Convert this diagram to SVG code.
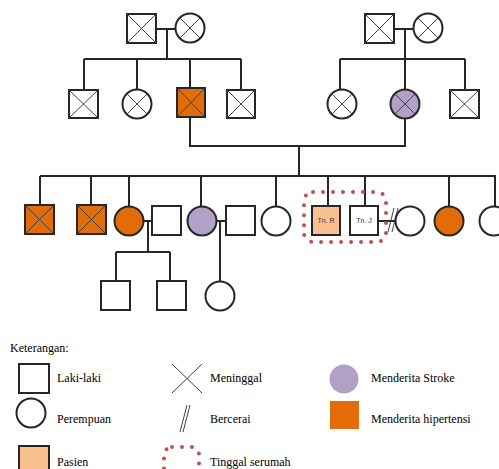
<svg xmlns="http://www.w3.org/2000/svg" width="499" height="469" viewBox="0 0 499 469">
<style>
.s{fill:#fff;stroke:#262626;stroke-width:2}
.o{fill:#E36C09}
.p{fill:#B2A1C7}
.pa{fill:#FAC090}
.x{stroke:#404040;stroke-width:1;fill:none}
.ln{stroke:#262626;stroke-width:2;fill:none}
.dot{fill:none;stroke:#C0504D;stroke-width:4;stroke-linecap:round;stroke-dasharray:0 10}
.t{font-family:"Liberation Serif",serif;font-size:12px;fill:#000}
.n{font-family:"Liberation Sans",sans-serif;font-size:7px;fill:#333}
</style>
<g id="connectors">
<path class="ln" d="M156 29H176M167 29V59M84 59H241M84 59V90M137 59V90M190 59V88M241 59V90"/>
<path class="ln" d="M394 29H414M405 29V90M340 59H465M340 59V90M465 59V90"/>
<path class="ln" d="M190 117V146H405V119M299 146V176"/>
<path class="ln" d="M40 176H496M40 176V205M91 176V205M129 176V206M201 176V206M276 176V206M328 176V206M365 176V206M449 176V206M495 176V206"/>
<path class="ln" d="M144 221H152M148 221V252M116 252H170M116 252V281M170 252V281"/>
<path class="ln" d="M217 221H226M220 221V281"/>
<path class="ln" d="M378 221H396"/>
<path class="x" stroke-width="1.2" d="M388 232L394 208M392 232L398 208"/>
</g>
<g id="gp1m"><rect class="s" x="127" y="14" width="29" height="29"/><path class="x" d="M127 14L156 43M156 14L127 43"/></g>
<g id="gp1f"><circle class="s" cx="190" cy="28" r="14.5"/><path class="x" d="M179.7 17.7L200.3 38.3M200.3 17.7L179.7 38.3"/></g>
<g id="gp2m"><rect class="s" x="365" y="14" width="29" height="29"/><path class="x" d="M365 14L394 43M394 14L365 43"/></g>
<g id="gp2f"><circle class="s" cx="428" cy="28" r="14.5"/><path class="x" d="M417.7 17.7L438.3 38.3M438.3 17.7L417.7 38.3"/></g>
<g id="p1"><rect class="s" x="69" y="90" width="29" height="28"/><path class="x" d="M69 90L98 118M98 90L69 118"/></g>
<g id="p2"><circle class="s" cx="137" cy="104" r="14.5"/><path class="x" d="M126.7 93.7L147.3 114.3M147.3 93.7L126.7 114.3"/></g>
<g id="father"><rect class="s o" x="177" y="88" width="28" height="29"/><path class="x" stroke="#262626" d="M177 88L205 117M205 88L177 117"/></g>
<g id="p4"><rect class="s" x="227" y="90" width="28" height="28"/><path class="x" d="M227 90L255 118M255 90L227 118"/></g>
<g id="p5"><circle class="s" cx="342" cy="104" r="14.5"/><path class="x" d="M331.7 93.7L352.3 114.3M352.3 93.7L331.7 114.3"/></g>
<g id="mother"><circle class="s p" cx="405" cy="104" r="14.5"/><path class="x" stroke="#262626" d="M394.7 93.7L415.3 114.3M415.3 93.7L394.7 114.3"/></g>
<g id="p7"><rect class="s" x="450" y="90" width="29" height="28"/><path class="x" d="M450 90L479 118M479 90L450 118"/></g>
<g id="c1"><rect class="s o" x="25" y="205" width="29" height="29"/><path class="x" stroke="#262626" d="M25 205L54 234M54 205L25 234"/></g>
<g id="c2"><rect class="s o" x="77" y="205" width="29" height="29"/><path class="x" stroke="#262626" d="M77 205L106 234M106 205L77 234"/></g>
<g id="c3"><circle class="s o" cx="129" cy="221" r="14.5"/></g>
<g id="c3h"><rect class="s" x="152" y="206" width="29" height="29"/></g>
<g id="c4"><circle class="s p" cx="202" cy="221" r="14.5"/></g>
<g id="c4h"><rect class="s" x="226" y="206" width="29" height="29"/></g>
<g id="c5"><circle class="s" cx="276" cy="221" r="14.5"/></g>
<g id="tnR"><rect class="s pa" x="312" y="206" width="28" height="29"/><text class="n" x="326" y="223" text-anchor="middle">Tn. R</text></g>
<g id="tnJ"><rect class="s" x="350" y="206" width="28" height="29"/><text class="n" x="364" y="223" text-anchor="middle">Tn. J</text></g>
<g id="exw"><circle class="s" cx="410" cy="221" r="14.5"/></g>
<g id="c7"><circle class="s o" cx="449" cy="221" r="14.5"/></g>
<g id="c8"><circle class="s" cx="494" cy="221" r="14.5"/></g>
<g id="gc1"><rect class="s" x="101" y="281" width="29" height="29"/></g>
<g id="gc2"><rect class="s" x="157" y="281" width="29" height="29"/></g>
<g id="gc3"><circle class="s" cx="220" cy="296" r="14.5"/></g>
<g id="household"><rect class="dot" x="304" y="192" width="82" height="50" rx="9"/></g>
<g id="legend">
<text class="t" x="10" y="352">Keterangan:</text>
<rect class="s" x="19" y="364" width="30" height="29"/>
<text class="t" x="57" y="382">Laki-laki</text>
<circle class="s" cx="31" cy="413" r="14.5"/>
<text class="t" x="57" y="423">Perempuan</text>
<rect class="s pa" x="19" y="446" width="30" height="30"/>
<text class="t" x="57" y="466">Pasien</text>
<path class="x" d="M172 364L202 393M202 364L172 393"/>
<text class="t" x="210" y="382">Meninggal</text>
<path class="x" stroke="#000" d="M180 432L187 405M183 432L190 405"/>
<text class="t" x="210" y="423">Bercerai</text>
<rect class="dot" x="164" y="447" width="35" height="40" rx="8"/>
<text class="t" x="210" y="466">Tinggal serumah</text>
<circle class="p" cx="344" cy="379" r="14.5"/>
<text class="t" x="371" y="382">Menderita Stroke</text>
<rect class="o" x="330" y="401" width="29" height="28"/>
<text class="t" x="371" y="423">Menderita hipertensi</text>
</g>
</svg>
